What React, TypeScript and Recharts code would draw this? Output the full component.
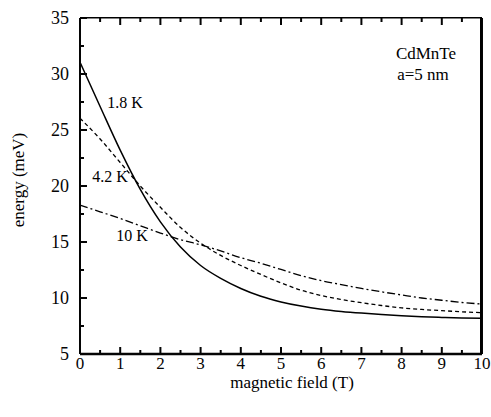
import React from 'react';
import { LineChart, Line, XAxis, YAxis } from 'recharts';

const field = [0, 0.5, 1, 1.5, 2, 2.5, 3, 3.5, 4, 4.5, 5, 5.5, 6, 6.5, 7, 7.5, 8, 8.5, 9, 9.5, 10];
const energy18K = [31.05, 27.1, 23.2, 19.7, 16.8, 14.55, 12.9, 11.75, 10.85, 10.15, 9.65, 9.28, 9.0, 8.8, 8.65, 8.53, 8.42, 8.33, 8.27, 8.22, 8.2];
const energy42K = [26.05, 24.2, 22.1, 20.0, 18.1, 16.3, 14.9, 13.8, 12.9, 12.1, 11.35, 10.7, 10.22, 9.87, 9.58, 9.33, 9.12, 8.98, 8.87, 8.77, 8.69];
const energy10K = [18.3, 17.7, 17.1, 16.45, 15.8, 15.2, 14.75, 14.2, 13.6, 13.1, 12.55, 12.0, 11.55, 11.2, 10.85, 10.55, 10.27, 10.0, 9.8, 9.6, 9.46];

const xTicks = [0, 0.5, 1, 1.5, 2, 2.5, 3, 3.5, 4, 4.5, 5, 5.5, 6, 6.5, 7, 7.5, 8, 8.5, 9, 9.5, 10];
const yTicks = [5, 7.5, 10, 12.5, 15, 17.5, 20, 22.5, 25, 27.5, 30, 32.5, 35];

const data = field.map((b, i) => ({
    b,
    k18: energy18K[i],
    k42: energy42K[i],
    k10: energy10K[i],
}));

const INK = 'rgb(5,5,5)';

function BottomTick(p: any) {
    const len = Number.isInteger(p.payload.value) ? 7 : 4;
    return (
        <g>
            <line x1={p.x} y1={p.y} x2={p.x} y2={p.y - len} stroke={INK} strokeWidth={2} />
            <text x={p.x} y={p.y + 15} textAnchor="middle" fontSize={17} fill={INK}>
                {Number.isInteger(p.payload.value) ? p.payload.value : ''}
            </text>
        </g>
    );
}

function TopTick(p: any) {
    const len = Number.isInteger(p.payload.value) ? 7 : 4;
    return <line x1={p.x} y1={p.y} x2={p.x} y2={p.y + len} stroke={INK} strokeWidth={2} />;
}

function LeftTick(p: any) {
    const major = p.payload.value % 5 === 0;
    return (
        <g>
            <line x1={p.x} y1={p.y} x2={p.x + (major ? 7 : 4)} y2={p.y} stroke={INK} strokeWidth={2} />
            <text x={p.x - 11} y={p.y + 6} textAnchor="end" fontSize={18} fill={INK}>
                {major ? p.payload.value : ''}
            </text>
        </g>
    );
}

function RightTick(p: any) {
    const major = p.payload.value % 5 === 0;
    return <line x1={p.x} y1={p.y} x2={p.x - (major ? 7 : 4)} y2={p.y} stroke={INK} strokeWidth={2} />;
}

function Note({ x, y, size, children, rotate }: any) {
    return (
        <div
            style={{
                position: 'absolute',
                left: x,
                top: y,
                transform: `translate(-50%, -50%)${rotate ? ' rotate(-90deg)' : ''}`,
                fontFamily: 'serif',
                fontSize: size,
                lineHeight: 1,
                whiteSpace: 'nowrap',
                color: '#000',
            }}
        >
            {children}
        </div>
    );
}

export default function App() {
    return (
        <div style={{ position: 'absolute', left: 0, top: 0 }}>
            <LineChart width={491} height={417} data={data} margin={{ top: 0, right: 0, left: 0, bottom: 33 }}>
                <XAxis
                    dataKey="b"
                    type="number"
                    domain={[0, 10]}
                    ticks={xTicks}
                    interval={0}
                    tickSize={0}
                    tickMargin={0}
                    height={30}
                    stroke={INK}
                    strokeWidth={2.5}
                    tick={<BottomTick />}
                />
                <XAxis
                    xAxisId="top"
                    orientation="top"
                    dataKey="b"
                    type="number"
                    domain={[0, 10]}
                    ticks={xTicks}
                    interval={0}
                    tickSize={0}
                    tickMargin={0}
                    height={18}
                    stroke={INK}
                    tick={<TopTick />}
                />
                <YAxis
                    type="number"
                    domain={[5, 35]}
                    ticks={yTicks}
                    interval={0}
                    tickSize={0}
                    tickMargin={0}
                    width={80}
                    stroke={INK}
                    strokeWidth={2}
                    tick={<LeftTick />}
                />
                <YAxis
                    yAxisId="right"
                    orientation="right"
                    type="number"
                    domain={[5, 35]}
                    ticks={yTicks}
                    width={9}
                    stroke={INK}
                    strokeWidth={2}
                    tick={<RightTick />}
                />
                <Line type="monotone" dataKey="k18" stroke="#000" strokeWidth={1.5} dot={false} isAnimationActive={false} />
                <Line
                    type="monotone"
                    dataKey="k42"
                    stroke="#000"
                    strokeWidth={1.3}
                    strokeDasharray="4 3"
                    dot={false}
                    isAnimationActive={false}
                />
                <Line
                    type="monotone"
                    dataKey="k10"
                    stroke="#000"
                    strokeWidth={1.3}
                    strokeDasharray="8 3 2 3"
                    dot={false}
                    isAnimationActive={false}
                />
            </LineChart>
            {/* plot frame, top and right edges */}
            <div
                style={{
                    position: 'absolute',
                    left: 80,
                    top: 17,
                    width: 402,
                    height: 337,
                    borderTop: '1.5px solid #000',
                    borderRight: '2px solid #000',
                    boxSizing: 'border-box',
                    pointerEvents: 'none',
                }}
            />
            <Note x={125} y={103} size={16}>1.8 K</Note>
            <Note x={110} y={177} size={16}>4.2 K</Note>
            <Note x={132} y={236} size={16}>10 K</Note>
            <Note x={426} y={53} size={17}>CdMnTe</Note>
            <Note x={423} y={74} size={17}>a=5 nm</Note>
            <Note x={292} y={382} size={17}>magnetic field (T)</Note>
            <Note x={18} y={180} size={17} rotate>energy (meV)</Note>
        </div>
    );
}
